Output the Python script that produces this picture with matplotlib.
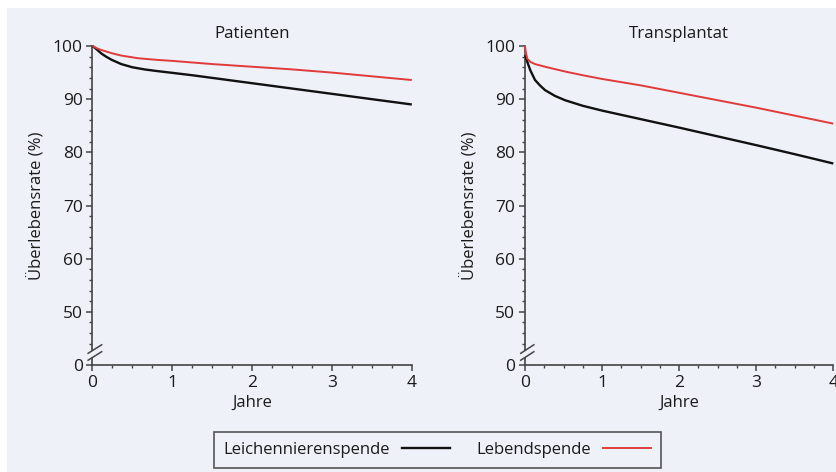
import matplotlib
matplotlib.use("Agg")
import matplotlib.pyplot as plt
from matplotlib.lines import Line2D
from matplotlib.patches import Rectangle
from matplotlib.ticker import MultipleLocator, FixedLocator

plt.rcParams['font.family'] = ['Open Sans', 'DejaVu Sans']

# ---- data ----
years_pat_leichen = [0, 0.05, 0.11, 0.17, 0.24, 0.36, 0.5, 0.65, 0.8, 1, 1.25, 1.5, 2, 2.5, 3, 3.5, 4]
pat_leichen = [100, 99.4, 98.6, 98.0, 97.4, 96.6, 96.0, 95.6, 95.3, 94.95, 94.5, 94.0, 93.0, 92.0, 91.0, 90.0, 89.0]
years_pat_lebend = [0, 0.05, 0.11, 0.24, 0.36, 0.57, 0.8, 1, 1.5, 2, 2.5, 3, 3.5, 4]
pat_lebend = [100, 99.6, 99.25, 98.65, 98.2, 97.7, 97.4, 97.2, 96.6, 96.1, 95.6, 95.0, 94.3, 93.6]

years_tx_leichen = [0, 0.03, 0.07, 0.13, 0.2, 0.26, 0.39, 0.52, 0.75, 1, 1.25, 1.5, 2, 2.5, 3, 3.5, 4]
tx_leichen = [98.3, 97.0, 95.4, 93.6, 92.5, 91.7, 90.6, 89.8, 88.75, 87.85, 87.05, 86.25, 84.65, 83.0, 81.35, 79.65, 77.9]
years_tx_lebend = [0, 0.01, 0.03, 0.07, 0.13, 0.26, 0.52, 0.75, 1, 1.25, 1.5, 2, 2.5, 3, 3.5, 4]
tx_lebend = [100, 98.8, 97.6, 97.0, 96.6, 96.1, 95.2, 94.5, 93.8, 93.2, 92.6, 91.2, 89.8, 88.4, 86.9, 85.4]

titles = ["Patienten", "Transplantat"]
ytick_vals = [40, 50, 60, 70, 80, 90, 100]
ytick_labels = ["0", "50", "60", "70", "80", "90", "100"]
xtick_vals = [0, 1, 2, 3, 4]
series_labels = ["Leichennierenspende", "Lebendspende"]
series_colors = ["#111111", "#e03a3a"]

BG = "#eef1f8"
AX = "#444444"
TXT = "#1a1a1a"

W, H = 837, 472
fig = plt.figure(figsize=(W / 100, H / 100), dpi=100, facecolor="white")
fig.patches.append(Rectangle((7 / W, 0), 1 - 7 / W, 1 - 8 / H, transform=fig.transFigure,
                             facecolor=BG, edgecolor="none", zorder=-10))

def px_axes(x0, x1, y_top, y_bot):
    return [x0 / W, 1 - y_bot / H, (x1 - x0) / W, (y_bot - y_top) / H]

ax1 = fig.add_axes(px_axes(92.5, 411.8, 46, 365))
ax2 = fig.add_axes(px_axes(525, 833.3, 46, 365))

data = [
    ((years_pat_leichen, pat_leichen), (years_pat_lebend, pat_lebend)),
    ((years_tx_leichen, tx_leichen), (years_tx_lebend, tx_lebend)),
]

for ax, title, (s_black, s_red) in zip([ax1, ax2], titles, data):
    ax.set_facecolor("none")
    ax.plot(*s_black, color=series_colors[0], lw=1.7, solid_capstyle="butt",
            solid_joinstyle="round", zorder=3, clip_on=False)
    ax.plot(*s_red, color=series_colors[1], lw=1.4, solid_capstyle="butt",
            solid_joinstyle="round", zorder=4, clip_on=False)
    ax.set_xlim(0, 4)
    ax.set_ylim(40, 100)
    for s in ["top", "right", "left"]:
        ax.spines[s].set_visible(False)
    ax.spines["bottom"].set_color(AX)
    ax.spines["bottom"].set_linewidth(1.2)
    # y axis line with break
    ax.plot([0, 0], [42.8, 100], color=AX, lw=1.2, clip_on=False, zorder=2)
    ax.plot([0, 0], [40, 41.4], color=AX, lw=1.2, clip_on=False, zorder=2)
    ax.plot([-0.055, 0.115], [42.2, 43.8], color=AX, lw=1.1, clip_on=False)
    ax.plot([-0.055, 0.115], [40.9, 42.5], color=AX, lw=1.1, clip_on=False)

    ax.yaxis.set_major_locator(FixedLocator(ytick_vals))
    ax.set_yticklabels(ytick_labels)
    ax.yaxis.set_minor_locator(FixedLocator([v for v in range(44, 100, 2) if v % 10 != 0]))
    ax.xaxis.set_major_locator(FixedLocator(xtick_vals))
    ax.xaxis.set_minor_locator(MultipleLocator(0.25))
    ax.tick_params(axis="both", which="major", direction="out", length=4, width=1.1,
                   color=AX, labelsize=12.5, labelcolor=TXT, pad=3)
    ax.tick_params(axis="both", which="minor", direction="out", length=2.5, width=1.0, color=AX)
    ax.set_title(title, fontsize=12.2, color=TXT, pad=6)
    ax.set_xlabel("Jahre", fontsize=12, color=TXT, labelpad=3)
    ax.set_ylabel("Überlebensrate (%)", fontsize=12, color=TXT, labelpad=5)

handles = [Line2D([], [], color=c, lw=1.7 if i == 0 else 1.4) for i, c in enumerate(series_colors)]
leg = fig.legend(handles, series_labels, ncol=2, loc="center", markerfirst=False,
                 bbox_to_anchor=(437.5 / W, 1 - 450 / H), fontsize=12, frameon=True,
                 fancybox=False, framealpha=1, facecolor=BG, edgecolor="#555555",
                 handlelength=2.9, handletextpad=0.7, columnspacing=1.6,
                 borderpad=0.6, borderaxespad=0)
leg.get_frame().set_linewidth(1.2)
for t in leg.get_texts():
    t.set_color(TXT)

fig.savefig("out.png", dpi=100, facecolor="white")
